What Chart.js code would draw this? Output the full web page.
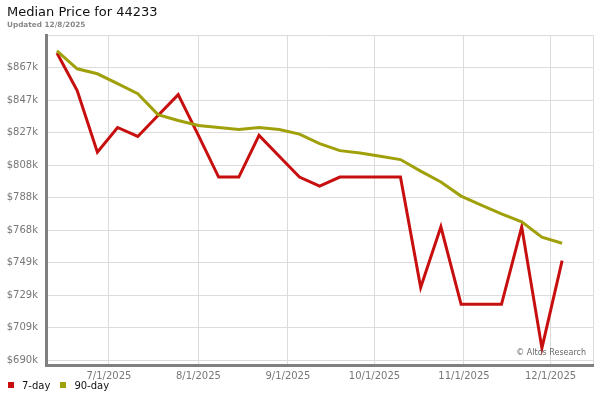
<!DOCTYPE html>
<html>
<head>
<meta charset="utf-8">
<script src="https://cdn.jsdelivr.net/npm/chart.js@4"></script>
<style>
  html, body { margin: 0; padding: 0; background: #fff; }
  #wrap { position: relative; width: 600px; height: 400px; font-family: "DejaVu Sans", sans-serif; }
  #chart { position: absolute; left: 0; top: 0; }
  .title { position: absolute; left: 7px; top: 4px; font-size: 13px; line-height: 15px; color: #111; }
  .updated { position: absolute; left: 7px; top: 20px; font-size: 7.3px; line-height: 10px; color: #888; font-weight: bold; }
  .credit { position: absolute; right: 14px; top: 348px; font-size: 8px; line-height: 10px; color: #666; }
  .legend { position: absolute; left: 8px; top: 380px; font-size: 10px; line-height: 12px; color: #111; }
  .legend span.box { display: inline-block; width: 6px; height: 6px; margin-right: 8px; vertical-align: 1px; }
  .legend span.item { margin-right: 10px; }
</style>
</head>
<body>
<div id="wrap">
  <canvas id="chart" width="600" height="400"></canvas>
  <div class="title">Median Price for 44233</div>
  <div class="updated">Updated 12/8/2025</div>
  <div class="credit">© Altos Research</div>
  <div class="legend" id="legend"></div>
</div>
<script>
// ---------- DATI ----------
const weeks = [
  '2025-06-13','2025-06-20','2025-06-27','2025-07-04','2025-07-11','2025-07-18',
  '2025-07-25','2025-08-01','2025-08-08','2025-08-15','2025-08-22','2025-08-29',
  '2025-09-05','2025-09-12','2025-09-19','2025-09-26','2025-10-03','2025-10-10',
  '2025-10-17','2025-10-24','2025-10-31','2025-11-07','2025-11-14','2025-11-21',
  '2025-11-28','2025-12-05'
];
const price7 = [
  875800, 853000, 815700, 830700, 825300, 838000, 850600, 825900, 800700, 800700,
  825900, 813300, 800700, 795200, 800700, 800700, 800700, 800700, 733900, 770600,
  723700, 723700, 723700, 770600, 697200, 750100
];
const price90 = [
  877000, 866200, 863200, 857200, 851200, 838500, 834900, 831900, 830700, 829500,
  830700, 829500, 826700, 820900, 816700, 815300, 813300, 811300, 804300, 797700,
  789200, 783800, 778400, 773600, 764300, 760700
];
const monthTicks = ['2025-07-01','2025-08-01','2025-09-01','2025-10-01','2025-11-01','2025-12-01'];
const monthLabels = ['7/1/2025','8/1/2025','9/1/2025','10/1/2025','11/1/2025','12/1/2025'];
const priceTickStart = 690000;
const priceTickStep = 19666.67;
const priceTickCount = 11;

const seriesNames = ['7-day', '90-day'];
const seriesColors = ['#c80f0f', '#a0a00a'];

// giorni dall'epoca
const day = s => Date.parse(s + 'T00:00:00Z') / 86400000;

const xMin = day(weeks[0]) - 3.8;
const xMax = day(weeks[weeks.length - 1]) + 10.7;

const mk = arr => arr.map((v, i) => ({ x: day(weeks[i]), y: v }));

const data = {
  datasets: [price7, price90].map((arr, i) => ({
    label: seriesNames[i],
    data: mk(arr),
    borderColor: seriesColors[i],
    backgroundColor: seriesColors[i],
    borderWidth: 3,
    pointRadius: 0,
    tension: 0,
    order: 1 - i
  }))
};

const tickFont = { family: 'DejaVu Sans', size: 10 };

new Chart(document.getElementById('chart'), {
  type: 'line',
  data,
  options: {
    responsive: false,
    animation: false,
    devicePixelRatio: 1,
    layout: { padding: { top: 35, right: 7, left: 0, bottom: 0 } },
    plugins: { legend: { display: false }, tooltip: { enabled: false } },
    scales: {
      x: {
        type: 'linear',
        min: xMin,
        max: xMax,
        afterBuildTicks: s => {
          s.ticks = monthTicks.map(d => ({ value: day(d) })).concat([{ value: xMax }]);
        },
        afterFit: s => { s.height = 35; },
        ticks: {
          autoSkip: false,
          maxRotation: 0,
          padding: 5,
          color: '#777',
          font: tickFont,
          callback: (v, i) => monthLabels[i] || ''
        },
        grid: { color: '#dcdcdc', lineWidth: 1, drawTicks: false },
        border: { color: '#808080', width: 3 }
      },
      y: {
        min: 687000,
        max: priceTickStart + priceTickStep * (priceTickCount - 1),
        afterBuildTicks: s => {
          const t = [];
          for (let i = 0; i < priceTickCount; i++) t.push({ value: priceTickStart + i * priceTickStep });
          s.ticks = t;
        },
        afterFit: s => { s.width = 46; },
        ticks: {
          padding: 8,
          color: '#777',
          font: tickFont,
          callback: (v, i) => i === priceTickCount - 1 ? '' : '$' + Math.floor(v / 1000) + 'k'
        },
        grid: { color: '#dcdcdc', lineWidth: 1, drawTicks: false },
        border: { color: '#808080', width: 3 }
      }
    }
  }
});

// legenda
document.getElementById('legend').innerHTML = seriesNames.map((n, i) =>
  `<span class="item"><span class="box" style="background:${seriesColors[i]}"></span>${n}</span>`
).join('');
</script>
</body>
</html>
